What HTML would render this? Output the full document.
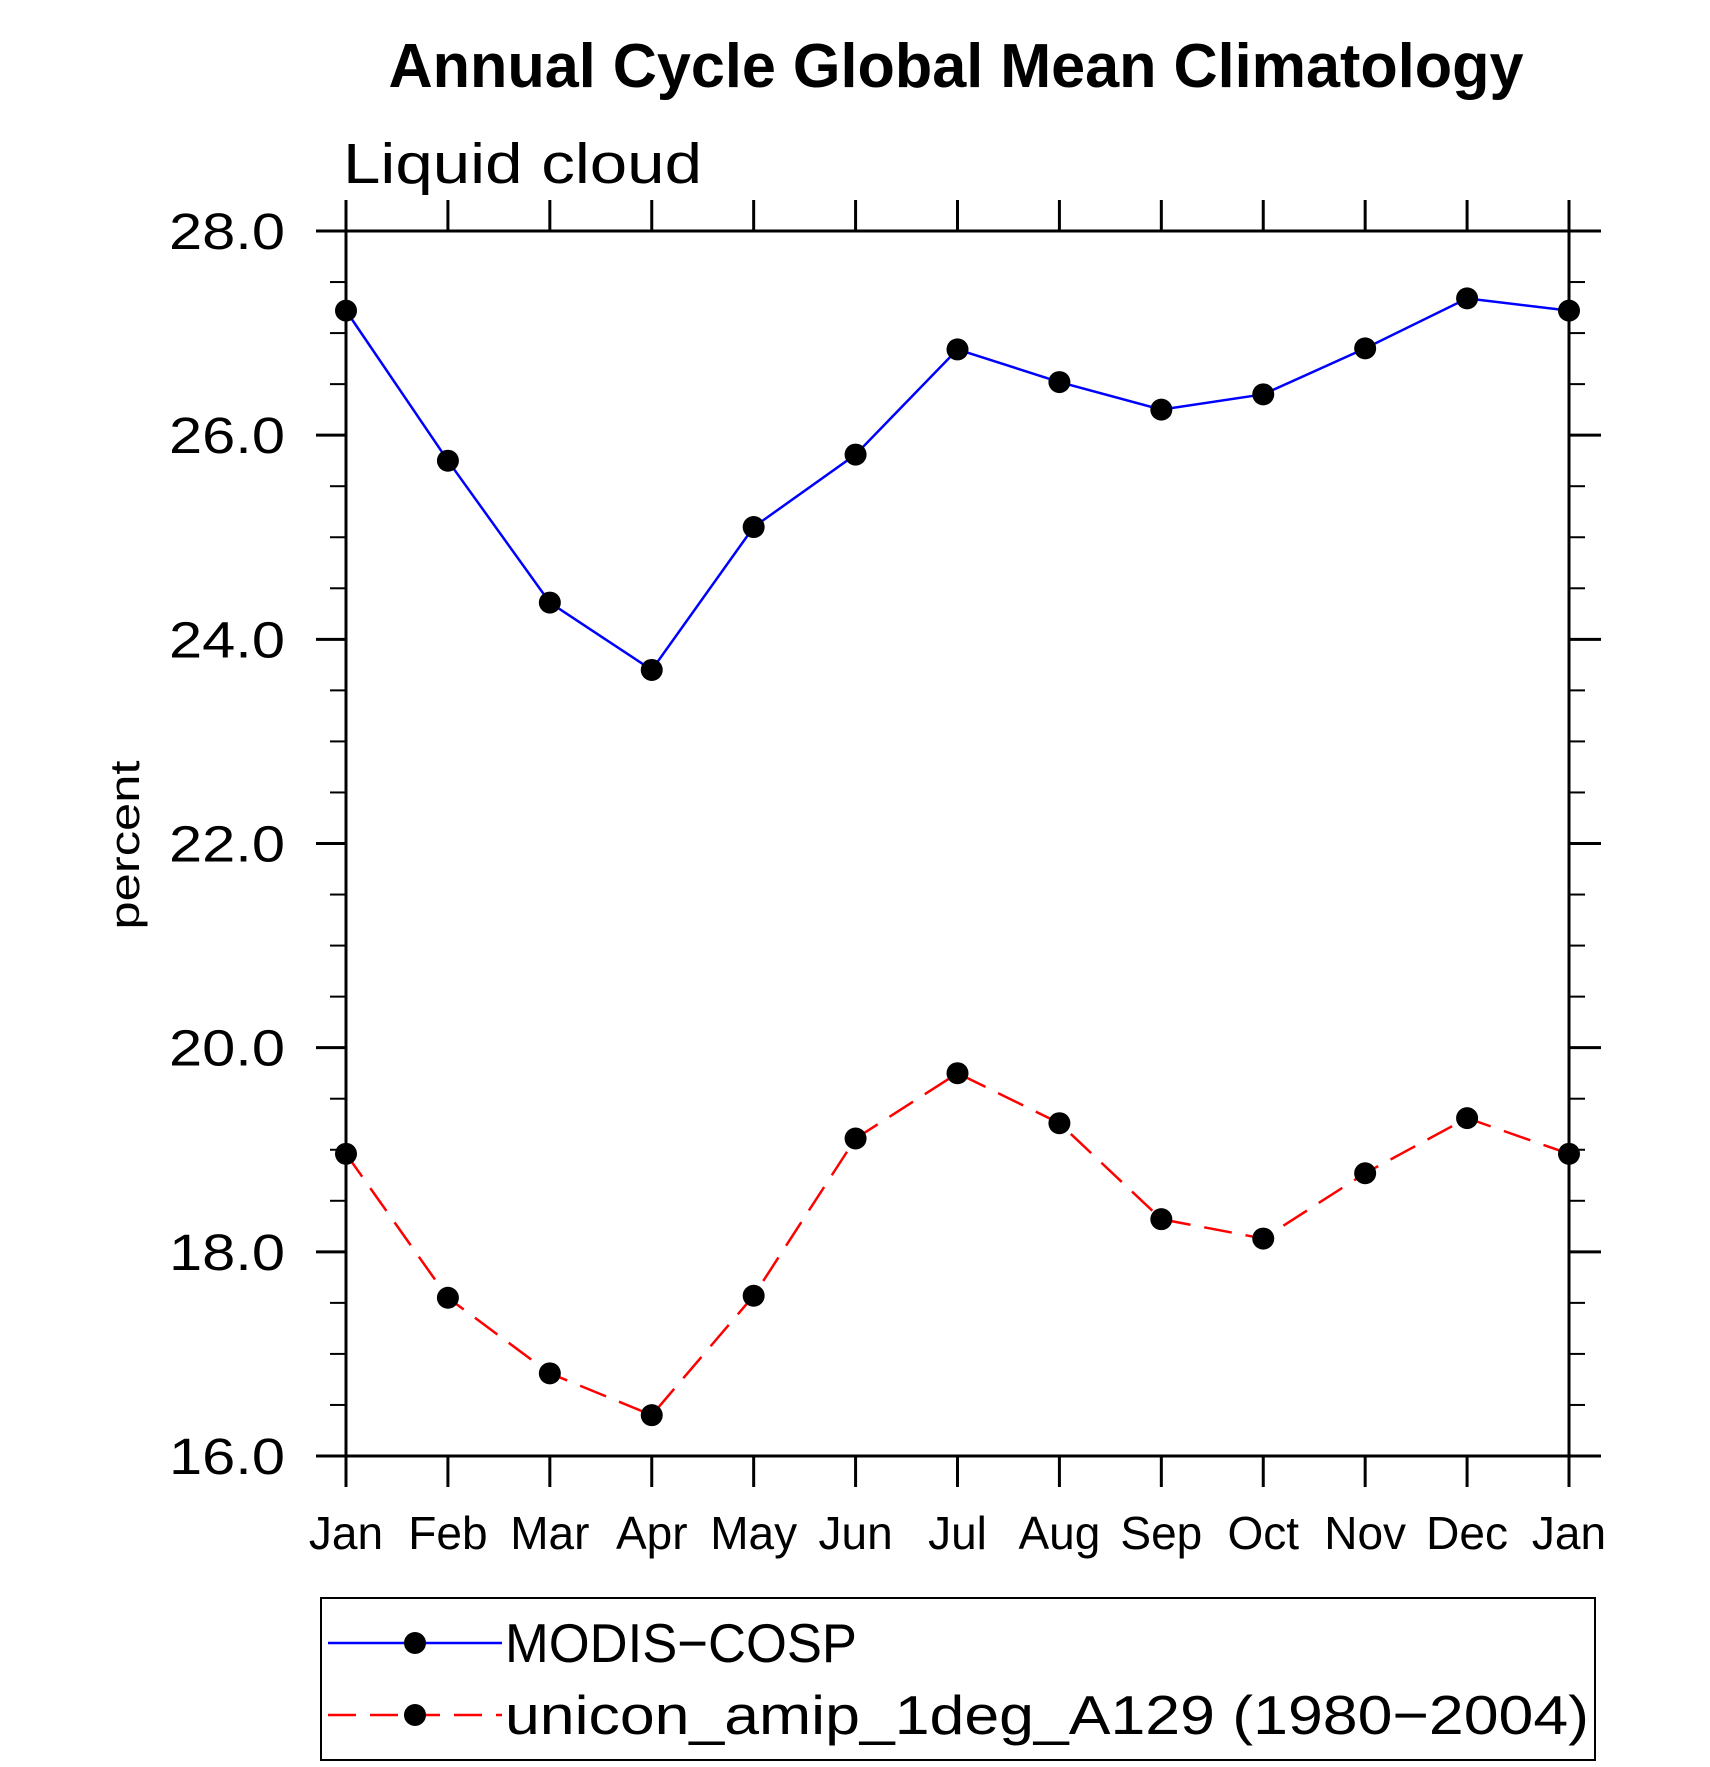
<!DOCTYPE html>
<html><head><meta charset="utf-8"><style>body{margin:0;background:#fff}svg{display:block}text{font-family:"Liberation Sans",sans-serif}</style></head>
<body>
<svg id="chart" width="1710" height="1767" viewBox="0 0 1710 1767">
<text x="956" y="87" text-anchor="middle" font-size="62" font-weight="bold" textLength="1135" lengthAdjust="spacingAndGlyphs">Annual Cycle Global Mean Climatology</text>
<text x="343" y="183" font-size="57" textLength="359" lengthAdjust="spacingAndGlyphs">Liquid cloud</text>
<text transform="translate(139,845) rotate(-90)" text-anchor="middle" font-size="42" textLength="169" lengthAdjust="spacingAndGlyphs">percent</text>
<g id="axes"></g>
<g id="series"></g>
<g>
<rect x="321" y="1598" width="1274" height="162" fill="none" stroke="#000" stroke-width="2"/>
<g>
<line x1="328" y1="1643" x2="502" y2="1643" stroke="#0000ff" stroke-width="2.5"/>
<circle cx="415" cy="1643" r="11" fill="#000"/>
<text x="505" y="1662" font-size="55" textLength="352" lengthAdjust="spacingAndGlyphs">MODIS−COSP</text>
</g>
<g>
<line x1="328" y1="1715" x2="502" y2="1715" stroke="#ff0000" stroke-width="2.5" stroke-dasharray="28,14"/>
<circle cx="415" cy="1715" r="11" fill="#000"/>
<text x="505" y="1734" font-size="55" textLength="1084" lengthAdjust="spacingAndGlyphs">unicon_amip_1deg_A129 (1980−2004)</text>
</g>
</g>
</svg>
<script>
const months = ["Jan","Feb","Mar","Apr","May","Jun","Jul","Aug","Sep","Oct","Nov","Dec","Jan"];
const modis = [27.22,25.75,24.36,23.70,25.10,25.81,26.84,26.52,26.25,26.40,26.85,27.34,27.22];
const unicon = [18.96,17.55,16.81,16.40,17.57,19.11,19.75,19.26,18.32,18.13,18.77,19.31,18.96];
const yTicks = ["16.0","18.0","20.0","22.0","24.0","26.0","28.0"];
const yMin = 16, yMax = 28;
const L=346,R=1569,T=231,B=1456;
const NS="http://www.w3.org/2000/svg";
function x(i){return L+i*(R-L)/(months.length-1);}
function y(v){return B-(v-yMin)*(B-T)/(yMax-yMin);}
function mk(tag,attrs,parent){const e=document.createElementNS(NS,tag);for(const k in attrs)e.setAttribute(k,attrs[k]);parent.appendChild(e);return e;}
const ax=document.getElementById('axes');
const frame=mk('rect',{x:L,y:T,width:R-L,height:B-T,fill:'none',stroke:'#000','stroke-width':3},ax);


months.forEach((m,i)=>{
  mk('line',{x1:x(i),y1:B,x2:x(i),y2:B+31,stroke:'#000','stroke-width':3},ax);
  mk('line',{x1:x(i),y1:T,x2:x(i),y2:T-31,stroke:'#000','stroke-width':3},ax);
  const t=mk('text',{x:x(i),y:1549,'text-anchor':'middle','font-size':46},ax);
  t.textContent=m;
  
  
});
for(let v=yMin; v<=yMax+1e-9; v+=0.5){
  const major=Math.abs(v/2-Math.round(v/2))<1e-9;
  mk('line',{x1:L-(major?30:16),y1:y(v),x2:L,y2:y(v),stroke:'#000','stroke-width':major?3:2},ax);
  mk('line',{x1:R,y1:y(v),x2:R+(major?32:16),y2:y(v),stroke:'#000','stroke-width':major?3:2},ax);
}
yTicks.forEach(s=>{
  const t=mk('text',{x:285,y:y(parseFloat(s))+18,'text-anchor':'end','font-size':51,textLength:116,lengthAdjust:'spacingAndGlyphs'},ax);
  t.textContent=s;
  
  
});
const sg=document.getElementById('series');
function draw(vals,color,dash,name){
  const g=mk('g',{},sg);
  
  
  const p=mk('polyline',{points:vals.map((v,i)=>x(i)+','+y(v)).join(' '),fill:'none',stroke:color,'stroke-width':2.5,'stroke-dasharray':dash},g);
  
  
  vals.forEach((v,i)=>{
    const c=mk('circle',{cx:x(i),cy:y(v),r:11,fill:'#000'},g);
    
    
  });
}
draw(modis,'#0000ff','none','modis-series');
draw(unicon,'#ff0000','28,14','unicon-series');
</script>
</body></html>
